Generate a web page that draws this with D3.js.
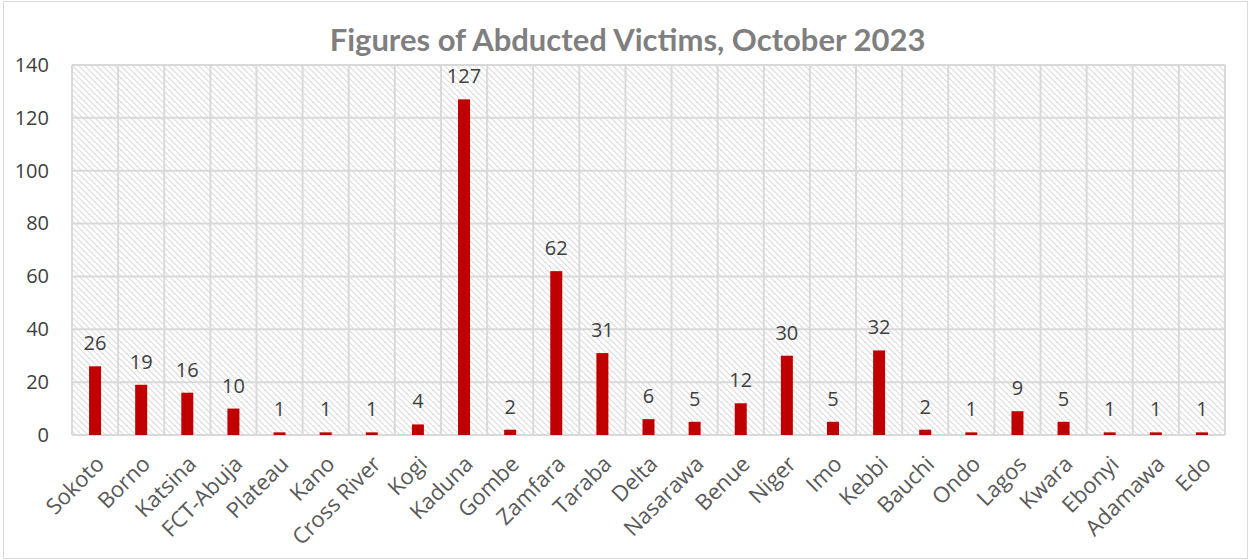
<!DOCTYPE html>
<html>
<head>
<meta charset="utf-8">
<script src="https://cdn.jsdelivr.net/npm/d3@7"></script>
<style>
  body { margin: 0; background: #fff; }
  svg { display: block; }
</style>
</head>
<body>
<svg id="viz"></svg>
<script>
// chart data
var states = ['Sokoto', 'Borno', 'Katsina', 'FCT-Abuja', 'Plateau', 'Kano', 'Cross River', 'Kogi',
  'Kaduna', 'Gombe', 'Zamfara', 'Taraba', 'Delta', 'Nasarawa', 'Benue', 'Niger', 'Imo', 'Kebbi',
  'Bauchi', 'Ondo', 'Lagos', 'Kwara', 'Ebonyi', 'Adamawa', 'Edo'];
var victims = [26, 19, 16, 10, 1, 1, 1, 4, 127, 2, 62, 31, 6, 5, 12, 30, 5, 32, 2, 1, 9, 5, 1, 1, 1];
var yTicks = [0, 20, 40, 60, 80, 100, 120, 140];
var title = 'Figures of Abducted Victims, October 2023';

var W = 1249, H = 560;
var margin = { top: 65, right: 24, bottom: 125, left: 72 };
var width = W - margin.left - margin.right;
var height = H - margin.top - margin.bottom;

var svg = d3.select('#viz').attr('width', W).attr('height', H);

// outer border
svg.append('rect')
  .attr('x', 3.5).attr('y', 1.5)
  .attr('width', W - 5).attr('height', H - 3)
  .attr('fill', 'none')
  .attr('stroke', '#d9d9d9');

// hatch pattern like excel's wide downward diagonal
var defs = svg.append('defs');
var pat = defs.append('pattern')
  .attr('id', 'hatch')
  .attr('patternUnits', 'userSpaceOnUse')
  .attr('width', 6).attr('height', 6);
pat.append('rect').attr('width', 6).attr('height', 6).attr('fill', '#fff');
pat.append('path')
  .attr('d', 'M-1,-1 L7,7 M-1,5 L1,7 M5,-1 L7,1')
  .attr('stroke', '#dcdcdc')
  .attr('stroke-width', 1.1);

svg.append('text')
  .attr('x', W / 2 + 3)
  .attr('y', 51)
  .attr('text-anchor', 'middle')
  .style('font-family', 'Lato, sans-serif')
  .style('font-weight', 'bold')
  .style('font-size', '31px')
  .style('fill', '#7f7f7f')
  .text(title);

var g = svg.append('g')
  .attr('transform', 'translate(' + margin.left + ',' + margin.top + ')');

var x = d3.scaleBand().domain(states).range([0, width]);
var y = d3.scaleLinear().domain([0, 140]).range([height, 0]);

g.append('rect')
  .attr('width', width).attr('height', height)
  .attr('fill', 'url(#hatch)');

// horizontal gridlines
g.selectAll('.hgrid')
  .data(yTicks)
  .join('line')
  .attr('class', 'hgrid')
  .attr('x1', 0).attr('x2', width)
  .attr('y1', (d) => y(d)).attr('y2', (d) => y(d))
  .attr('stroke', '#d9d9d9')
  .attr('stroke-width', 2);

// vertical gridlines at category edges
var edges = states.map((d) => x(d)).concat([width]);
g.selectAll('.vgrid')
  .data(edges)
  .join('line')
  .attr('class', 'vgrid')
  .attr('x1', (d) => d).attr('x2', (d) => d)
  .attr('y1', 0).attr('y2', height)
  .attr('stroke', '#d9d9d9')
  .attr('stroke-width', 2);

// y axis labels
var yAxis = g.append('g')
  .call(d3.axisLeft(y).tickValues(yTicks).tickSize(0).tickPadding(23));
yAxis.select('.domain').remove();
yAxis.selectAll('text')
  .style('font-family', '"Open Sans", sans-serif')
  .style('font-size', '20px')
  .style('fill', '#404040');

// x axis labels
var xAxis = g.append('g')
  .attr('transform', 'translate(0,' + height + ')')
  .call(d3.axisBottom(x).tickSize(0).tickPadding(0));
xAxis.select('.domain').remove();
xAxis.selectAll('text')
  .attr('text-anchor', 'end')
  .attr('y', 0)
  .attr('dy', '0.35em')
  .attr('transform', 'translate(5,25) rotate(-45)')
  .style('font-family', '"Open Sans", sans-serif')
  .style('font-size', '22px')
  .style('fill', '#595959');

var barW = 12;
g.selectAll('.bar')
  .data(victims)
  .join('rect')
  .attr('class', 'bar')
  .attr('x', (d, i) => x(states[i]) + x.bandwidth() / 2 - barW / 2)
  .attr('y', (d) => y(d))
  .attr('width', barW)
  .attr('height', (d) => height - y(d))
  .attr('fill', '#c00000');

g.selectAll('.val')
  .data(victims)
  .join('text')
  .attr('class', 'val')
  .attr('x', (d, i) => x(states[i]) + x.bandwidth() / 2)
  .attr('y', (d) => y(d) - 16)
  .attr('text-anchor', 'middle')
  .style('font-family', '"Open Sans", sans-serif')
  .style('font-size', '20px')
  .style('fill', '#404040')
  .text((d) => d);
</script>
</body>
</html>
